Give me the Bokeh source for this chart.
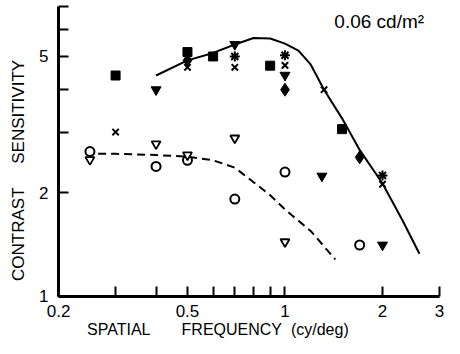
from bokeh.plotting import figure
from bokeh.models import FixedTicker, Label, Range1d
from bokeh.embed import file_html
from bokeh.resources import INLINE

# ---- data ----
x_ticks = [0.2, 0.3, 0.4, 0.5, 0.6, 0.7, 0.8, 0.9, 1, 2, 3]
x_tick_labels = ["0.2", "", "", "0.5", "", "", "", "", "1", "2", "3"]
y_ticks = [1, 2, 3, 4, 5, 6, 7]
y_tick_labels = ["1", "2", "", "", "5", "", ""]

sq_f = [0.3, 0.5, 0.6, 0.9, 1.5]
sq_s = [4.4, 5.15, 5.0, 4.7, 3.07]
dia_f = [0.5, 1.0, 1.7]
dia_s = [4.87, 4.0, 2.54]
tri_f = [0.4, 0.7, 1.0, 1.3, 2.0]
tri_s = [4.0, 5.42, 4.41, 2.24, 1.41]
x_f = [0.3, 0.5, 0.7, 1.0, 1.32, 2.0]
x_s = [3.01, 4.65, 4.65, 4.71, 4.0, 2.12]
ast_f = [0.7, 1.0, 2.0]
ast_s = [5.0, 5.04, 2.25]
circ_f = [0.25, 0.4, 0.5, 0.7, 1.0, 1.7]
circ_s = [2.64, 2.39, 2.49, 1.92, 2.30, 1.41]
otri_f = [0.25, 0.4, 0.5, 0.7, 1.0]
otri_s = [2.50, 2.78, 2.58, 2.89, 1.44]

solid_f = [0.4, 0.5, 0.6, 0.7, 0.8, 0.9, 1.0, 1.1, 1.2, 1.32, 1.5, 1.7, 2.0, 2.3, 2.6]
solid_s = [4.4, 4.87, 5.12, 5.42, 5.66, 5.64, 5.45, 5.2, 4.74, 4.0, 3.3, 2.67, 2.13, 1.67, 1.33]
dash_f = [0.265, 0.3, 0.4, 0.5, 0.6, 0.7, 0.8, 0.9, 1.0, 1.2, 1.43]
dash_s = [2.60, 2.60, 2.58, 2.55, 2.49, 2.37, 2.15, 1.97, 1.79, 1.55, 1.28]

title_text = "0.06 cd/m\u00b2"
NB = "\u00a0"
x_title = "SPATIAL" + NB * 7 + "FREQUENCY" + NB * 2 + "(cy/deg)" + NB * 14
y_title = "CONTRAST" + NB * 5 + "SENSITIVITY" + NB * 8

FONT = "Liberation Sans"

# axis extents (data); the frame is padded around them so labels stay on the canvas
X_LO, X_HI = 0.2, 3
Y_LO, Y_HI = 1, 7

p = figure(width=444, height=338, output_backend="svg", toolbar_location=None,
           x_axis_type="log", y_axis_type="log",
           x_range=Range1d(0.1324, 3.107), y_range=Range1d(0.7527, 7.28),
           min_border_left=0, min_border_right=0, min_border_top=0, min_border_bottom=0)
p.outline_line_color = None
p.xgrid.visible = False
p.ygrid.visible = False
p.background_fill_color = "white"
p.border_fill_color = "white"

p.xaxis.fixed_location = Y_LO
p.xaxis.bounds = (X_LO, X_HI)
p.yaxis.fixed_location = X_LO
p.yaxis.bounds = (Y_LO, Y_HI)

for ax, ticks, labels in ((p.xaxis[0], x_ticks, x_tick_labels), (p.yaxis[0], y_ticks, y_tick_labels)):
    ax.ticker = FixedTicker(ticks=ticks, minor_ticks=[])
    ax.major_label_overrides = {t: l for t, l in zip(ticks, labels)}
    ax.axis_line_width = 3
    ax.axis_line_color = "black"
    ax.major_tick_line_width = 2
    ax.major_tick_line_color = "black"
    ax.major_tick_in = 10
    ax.major_tick_out = 0
    ax.minor_tick_in = 0
    ax.minor_tick_out = 0
    ax.major_label_text_font = FONT
    ax.major_label_text_font_size = "17px"
    ax.major_label_text_color = "black"
    ax.axis_label_text_font = FONT
    ax.axis_label_text_font_style = "normal"
    ax.axis_label_text_color = "black"

p.xaxis.axis_label = x_title
p.xaxis.axis_label_text_font_size = "16px"
p.xaxis.major_label_standoff = 9
p.xaxis.axis_label_standoff = 0
p.yaxis.axis_label = y_title
p.yaxis.axis_label_text_font_size = "17px"
p.yaxis.major_label_standoff = 10
p.yaxis.axis_label_standoff = 8
p.yaxis.major_label_orientation = "horizontal"

# curves
p.line(solid_f, solid_s, line_color="black", line_width=2)
p.line(dash_f, dash_s, line_color="black", line_width=2, line_dash="8 5")

# markers
p.scatter(sq_f, sq_s, marker="square", size=9, fill_color="black", line_color="black")
p.scatter(dia_f, dia_s, marker="diamond", size=13, fill_color="black", line_color="black")
p.scatter(tri_f, tri_s, marker="inverted_triangle", size=10, fill_color="black", line_color="black")
p.scatter(x_f, x_s, marker="x", size=9, line_color="black", line_width=2)
p.scatter(ast_f, ast_s, marker="asterisk", size=10, line_color="black", line_width=2)
p.scatter(circ_f, circ_s, marker="circle", size=9, fill_color="white", line_color="black", line_width=2)
p.scatter(otri_f, otri_s, marker="inverted_triangle", size=9, fill_color="white",
          line_color="black", line_width=1.8)

p.add_layout(Label(x=1.42, y=6.8, text=title_text, text_font=FONT, text_font_size="19px",
                   text_baseline="top", text_align="left", text_color="black"))

open("out.html", "w").write(file_html(p, INLINE))
